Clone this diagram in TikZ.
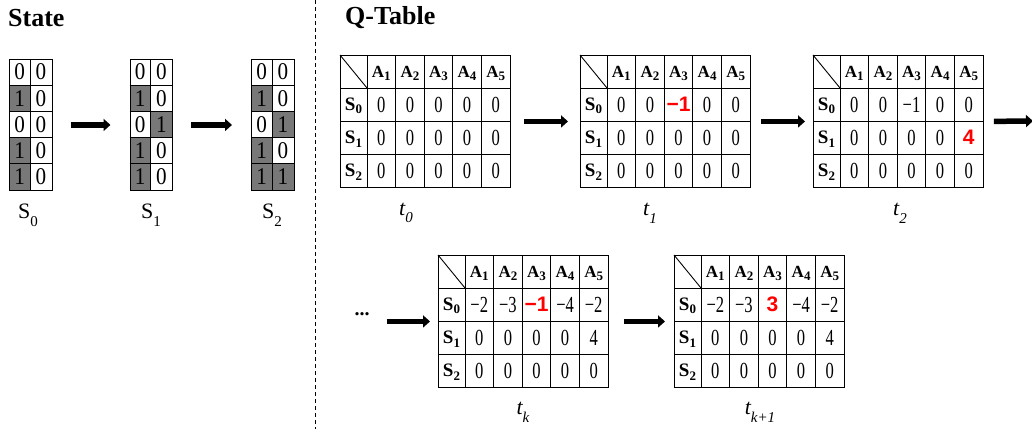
\documentclass[tikz,border=0pt]{standalone}
\usepackage{fontspec}
\setmainfont{Liberation Serif}
\newfontfamily\sansb{Liberation Sans}
\newfontfamily\numfont[FakeStretch=0.72]{Liberation Serif}
\newfontfamily\stfont[FakeStretch=0.88]{Liberation Serif}
\usetikzlibrary{arrows.meta}
\definecolor{cellgray}{RGB}{120,120,120}
\tikzset{
 bigarr/.style={line width=5.5pt, -{Triangle[length=7pt,width=12pt]}},
 tabframe/.style={draw, line width=0.9pt, inner sep=0pt, anchor=north west},
 gridline/.style={line width=0.9pt},
 hdr/.style={font=\fontsize{17}{17}\selectfont\bfseries, inner sep=0pt},
 rowhdr/.style={font=\fontsize{19}{19}\selectfont\bfseries, inner sep=0pt},
 title/.style={font=\fontsize{26}{26}\selectfont\bfseries, anchor=west, inner sep=0pt},
 tlabel/.style={font=\fontsize{22}{22}\selectfont\itshape, inner sep=0pt},
 slabel/.style={font=\fontsize{22}{22}\selectfont, inner sep=0pt},
 cellnum/.style={font=\fontsize{23}{23}\numfont, inner sep=0pt},
 stnum/.style={font=\fontsize{24}{24}\stfont, inner sep=0pt},
 sep/.style={line width=0.7pt, dash pattern=on 4pt off 3pt},
}
\newcommand\redv[1]{\textcolor{red}{\fontsize{21}{21}\sansb\bfseries #1}}
\newcommand\lowsub[1]{\raisebox{-0.35em}{\fontsize{15}{15}\selectfont #1}}
\newcommand\hsub[1]{\raisebox{-0.18em}{\fontsize{13}{13}\selectfont #1}}
\newcommand\qtab[6]{%
\begin{scope}[shift={(#2,#3)}]
 \foreach \k in {1,...,5} \draw[gridline] ({27+28.6*(\k-1)},0) -- ++(0,132);
 \foreach \k in {1,2,3} \draw[gridline] (0,{33*\k}) -- (170,{33*\k});
 \draw[gridline] (0,0) -- (27,33);
 \foreach \k in {1,...,5} \node[hdr] at ({12.7+28.6*\k},18) {A\hsub{\k}};
 \foreach \k in {0,1,2} \node[rowhdr] at (13.5,{51+33*\k}) {S\hsub{\k}};
 \foreach \v [count=\i] in {#4} \node[cellnum] at ({12.7+28.6*\i},49.5) {\v};
 \foreach \v [count=\i] in {#5} \node[cellnum] at ({12.7+28.6*\i},82.5) {\v};
 \foreach \v [count=\i] in {#6} \node[cellnum] at ({12.7+28.6*\i},115.5) {\v};
 \node[tabframe, minimum width=170pt, minimum height=132pt] (#1) at (0,0) {};
\end{scope}}
\newcommand\stgrid[3]{%
\begin{scope}[shift={(#2,59)}]
 \foreach \a/\b [count=\r] in {#3} {
   \ifnum\a=1 \fill[cellgray] (0,{26.2*(\r-1)}) rectangle ++(21.3,26.2);\fi
   \ifnum\b=1 \fill[cellgray] (21.3,{26.2*(\r-1)}) rectangle ++(21.3,26.2);\fi
   \node[stnum] at (10.65,{26.2*\r-13.1}) {\a};
   \node[stnum] at (31.95,{26.2*\r-13.1}) {\b};
 }
 \foreach \k in {1,...,4} \draw[gridline] (0,{26.2*\k}) -- ++(42.6,0);
 \draw[gridline] (21.3,0) -- ++(0,131);
 \node[tabframe, minimum width=42.6pt, minimum height=131pt] (#1) at (0,0) {};
\end{scope}}
\begin{document}
\begin{tikzpicture}[x=1pt,y=-1pt]
\useasboundingbox (0,0) rectangle (1032,429);
% titles
\node[title] (tstate) at (8,18) {State};
\node[title] (tq) at (345,18) {Q-Table};
\draw[sep] (315,0) -- (315,429);
% state grids
\stgrid{g0}{9}{0/0,1/0,0/0,1/0,1/0}
\stgrid{g1}{129.5}{0/0,1/0,0/1,1/0,1/0}
\stgrid{g2}{251}{0/0,1/0,0/1,1/0,1/1}
\node[slabel] (ls0) at (28,215) {S\lowsub{0}};
\node[slabel] (ls1) at (151,215) {S\lowsub{1}};
\node[slabel] (ls2) at (272,215) {S\lowsub{2}};
\draw[bigarr, shorten <=18pt, shorten >=19pt] (g0) -- (g1);
\draw[bigarr, shorten <=18pt, shorten >=19pt] (g1) -- (g2);
% Q tables
\qtab{q0}{340}{55}{0,0,0,0,0}{0,0,0,0,0}{0,0,0,0,0}
\qtab{q1}{580}{55}{0,0,{\redv{−1}},0,0}{0,0,0,0,0}{0,0,0,0,0}
\qtab{q2}{813}{55}{0,0,−1,0,0}{0,0,0,0,{\redv{4}}}{0,0,0,0,0}
\qtab{qk}{438}{255}{−2,−3,{\redv{−1}},−4,−2}{0,0,0,0,4}{0,0,0,0,0}
\qtab{qk1}{674}{255}{−2,−3,{\redv{3}},−4,−2}{0,0,0,0,4}{0,0,0,0,0}
\node[tlabel] (lt0) at (406,213) {t\lowsub{0}};
\node[tlabel] (lt1) at (650,213) {t\lowsub{1}};
\node[tlabel] (lt2) at (900,213) {t\lowsub{2}};
\node[tlabel] (ltk) at (523,412) {t\lowsub{k}};
\node[tlabel] (ltk1) at (760,412) {t\lowsub{k+1}};
\node[font=\fontsize{20}{20}\selectfont\bfseries, inner sep=0pt] (dots) at (362,314) {...};
\coordinate (edge) at (1033,121);
\draw[bigarr, shorten <=13pt, shorten >=12pt] (q0) -- (q1);
\draw[bigarr, shorten <=10pt, shorten >=8pt] (q1) -- (q2);
\draw[bigarr, shorten <=10pt] (q2.east) -- (edge);
\draw[bigarr, shorten <=17pt, shorten >=8pt] (dots.east |- qk.west) -- (qk.west);
\draw[bigarr, shorten <=15pt, shorten >=9pt] (qk) -- (qk1);
\end{tikzpicture}
\end{document}
